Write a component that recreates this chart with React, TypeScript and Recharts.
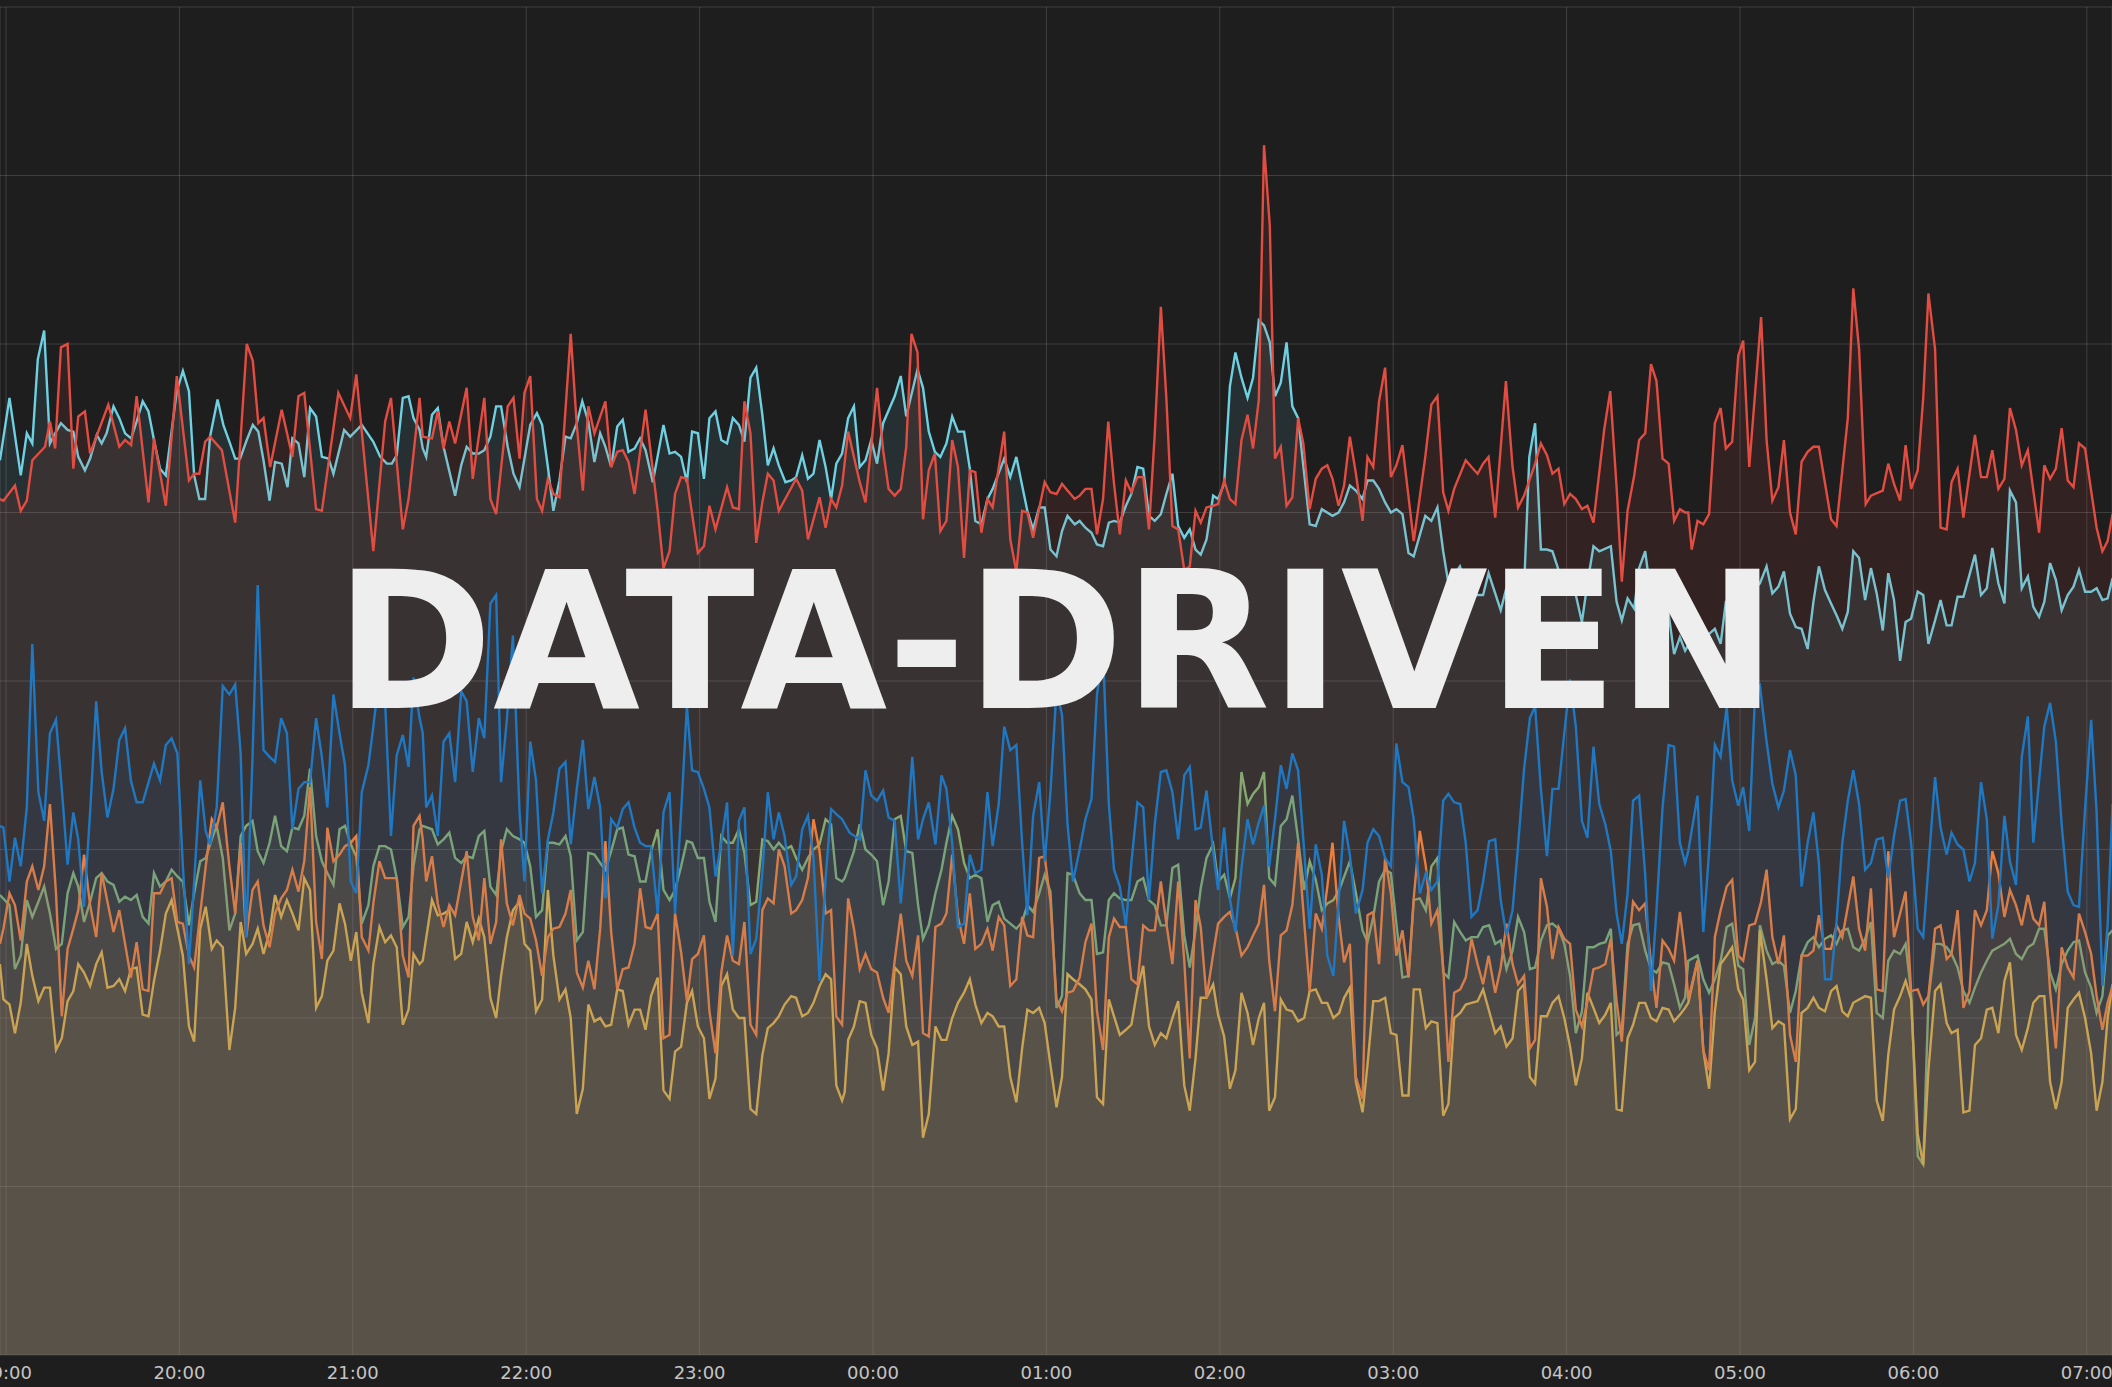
import { ComposedChart, Area, XAxis, YAxis, CartesianGrid } from 'recharts';

// x = minutes after 19:00, y = value (gridlines every 1 unit)
const hourLabels = ['19:00', '20:00', '21:00', '22:00', '23:00', '00:00', '01:00', '02:00', '03:00', '04:00', '05:00', '06:00', '07:00'];
const valueTicks = [0, 1, 2, 3, 4, 5, 6, 7, 8];

const redPts: [number, number][] = [
  [-2.1,5.08],[-0.9,5.07],[3.1,5.16],[5.1,5.01],[7.2,5.07],[9.1,5.31],[13.5,5.39],[15.2,5.54],[17.0,5.38],[19.0,5.98],[21.3,6.00],[23.3,5.26],[25.0,5.57],[27.3,5.60],[29.1,5.35],[35.4,5.64],[39.2,5.39],[41.2,5.43],[43.3,5.40],[45.2,5.69],[49.3,5.06],[51.2,5.44],[55.3,5.04],[59.1,5.81],[63.3,5.19],[65.1,5.23],[66.9,5.23],[68.9,5.42],[70.6,5.45],[74.7,5.37],[79.3,4.94],[83.3,6.00],[85.4,5.90],[87.3,5.53],[89.1,5.56],[91.4,5.27],[95.4,5.61],[99.1,5.33],[101.2,5.69],[103.2,5.71],[107.3,5.02],[109.3,5.01],[115.0,5.71],[119.1,5.56],[121.2,5.82],[127.1,4.77],[131.2,5.54],[133.2,5.68],[137.3,4.90],[139.3,5.08],[143.1,5.68],
  [144.2,5.45],[147.4,5.44],[149.4,5.60],[151.4,5.38],[153.4,5.54],[155.4,5.41],[159.4,5.74],[161.5,5.20],[165.5,5.68],[167.6,5.08],[169.6,4.99],[173.6,5.63],[175.6,5.68],[177.7,5.32],[179.4,5.71],[181.4,5.81],[183.7,5.08],[185.5,5.01],[187.5,5.20],[189.4,5.11],[191.5,5.09],[195.4,6.06],[197.5,5.52],[199.6,5.13],[201.5,5.63],[203.6,5.47],[207.4,5.66],[209.4,5.27],[211.5,5.36],[213.4,5.37],[215.4,5.30],[217.5,5.11],[221.3,5.61],[225.5,5.01],[227.5,4.67],[229.6,4.77],[231.5,5.11],[233.6,5.21],[235.6,5.20],[239.4,4.76],[241.5,4.80],[243.4,5.04],[245.5,4.90],[249.5,5.15],[251.5,5.03],[253.6,5.02],[255.5,5.66],[257.6,5.47],[259.6,4.82],[261.7,5.06],[263.6,5.23],[265.6,5.19],[267.4,5.01],[273.4,5.20],[275.5,5.13],[277.5,4.84],[281.5,5.09],[283.6,4.91],[285.5,5.08],[287.3,5.03],[289.3,5.16],
  [291.4,5.48],[295.4,5.18],[297.4,5.06],[301.4,5.74],[303.5,5.37],[305.4,5.14],[307.5,5.10],[309.6,5.14],[311.5,5.39],[313.3,6.06],[315.4,5.95],[317.3,4.96],[319.3,5.25],[321.4,5.35],[323.3,4.89],[325.4,4.95],[327.4,5.43],[329.4,5.27],[331.5,4.73],[333.5,5.25],[335.4,5.24],[337.5,4.88],[339.6,5.08],[341.4,5.03],[345.4,5.48],[347.5,4.84],[349.6,4.65],[351.6,5.01],[353.4,5.00],[355.4,4.85],[359.4,5.18],[361.4,5.12],[363.5,5.11],[365.4,5.17],[367.3,5.13],[369.8,5.08],[371.5,5.10],[373.5,5.14],[375.6,5.14],[377.5,4.87],[379.6,5.08],[381.4,5.54],[383.4,5.17],[385.4,4.87],[387.5,5.19],[389.4,5.12],[391.5,5.21],[393.5,5.21],[395.5,4.90],[397.5,5.47],[399.6,6.22],[401.5,5.68],[403.6,4.92],[405.6,4.90],[407.7,4.66],[409.6,4.68],[411.6,5.01],[413.4,4.94],[415.4,5.03],[417.7,5.04],[419.4,5.05],[421.5,5.19],[423.5,5.08],[425.4,5.05],[427.5,5.43],[429.6,5.58],[431.5,5.38],[433.5,5.67],[435.3,7.18],
  [437.3,6.70],[439.1,5.32],[441.1,5.39],[443.1,5.04],[445.1,5.09],[447.1,5.56],[448.9,5.41],[451.1,5.02],[453.2,5.20],[455.3,5.26],[457.2,5.28],[459.0,5.20],[461.1,5.04],[463.0,5.16],[465.0,5.45],[467.1,5.23],[469.4,4.95],[471.1,5.33],[473.1,5.27],[475.1,5.66],[477.2,5.86],[479.2,5.21],[481.1,5.28],[483.2,5.40],[487.1,4.83],[491.1,5.33],[493.2,5.64],[495.3,5.69],[497.3,5.12],[499.1,5.01],[501.1,5.14],[505.1,5.31],[507.1,5.27],[509.2,5.23],[511.1,5.29],[513.0,5.33],[515.3,4.97],[519.0,5.78],[521.3,5.27],[523.2,5.03],[525.3,5.10],[529.1,5.29],[531.1,5.41],[533.2,5.34],[535.1,5.23],[537.2,5.26],[539.2,5.05],[541.2,5.11],[543.2,5.08],[545.3,5.02],[547.2,5.04],[549.3,4.94],[553.0,5.49],[555.1,5.72],[557.3,5.15],[559.1,4.59],[561.1,5.01],[563.4,5.22],[565.1,5.43],[567.2,5.47],[569.2,5.88],[571.1,5.78],[573.2,5.32],[575.3,5.29],[577.2,4.95],[579.2,5.02],[581.0,5.00],
  [582.1,5.00],[583.3,4.78],[585.3,4.95],[587.3,4.93],[589.3,4.99],[591.3,5.53],[593.3,5.62],[595.1,5.38],[597.3,5.42],[599.4,5.93],[601.1,6.02],[603.2,5.27],[607.3,6.16],[609.2,5.43],[611.2,5.07],[613.3,5.15],[615.2,5.43],[617.3,5.00],[619.3,4.87],[621.3,5.30],[623.4,5.36],[625.4,5.39],[627.3,5.39],[631.5,4.96],[633.4,4.92],[637.3,5.56],[639.2,6.33],[641.2,5.97],[643.5,5.05],[645.3,5.10],[649.4,5.13],[651.3,5.29],[653.3,5.17],[655.4,5.07],[657.3,5.40],[659.2,5.14],[661.5,5.25],[663.4,5.68],[665.2,6.30],[667.5,5.97],[669.4,4.91],[671.5,4.90],[673.2,5.18],[675.3,5.26],[677.3,4.97],[681.3,5.46],[683.4,5.21],[685.4,5.21],[687.3,5.37],[689.4,5.14],[691.5,5.20],[693.4,5.62],[695.5,5.49],[697.5,5.28],[699.6,5.37],[703.5,4.88],[705.3,5.28],[707.3,5.20],[709.3,5.26],[711.3,5.50],[713.4,5.19],[715.4,5.15],[717.3,5.41],[719.4,5.38],[721.5,5.13],[723.4,4.91],[725.4,4.77],[727.2,4.83],[728.9,4.99],
];

const cyanPts: [number, number][] = [
  [-2.1,5.31],[1.2,5.68],[5.1,5.22],[7.2,5.47],[9.1,5.41],[11.0,5.91],[13.2,6.08],[15.2,5.41],[17.0,5.47],[19.0,5.53],[21.3,5.49],[23.3,5.48],[25.0,5.33],[27.3,5.25],[29.1,5.32],[31.4,5.46],[33.1,5.41],[34.8,5.47],[37.2,5.63],[39.2,5.56],[41.2,5.47],[43.3,5.44],[45.2,5.54],[47.3,5.66],[49.3,5.60],[51.2,5.43],[53.3,5.26],[55.3,5.22],[59.1,5.72],[61.2,5.84],[63.3,5.72],[65.1,5.22],[66.9,5.08],[68.9,5.08],[70.6,5.45],[73.2,5.67],[75.2,5.52],[77.5,5.41],[79.3,5.32],[81.0,5.32],[83.3,5.43],[85.4,5.52],[87.3,5.48],[89.1,5.31],[91.2,5.07],[93.1,5.30],[95.4,5.29],[97.4,5.15],[99.1,5.44],[101.2,5.41],[103.2,5.21],[105.2,5.62],[107.3,5.57],[109.3,5.33],[111.6,5.32],[113.3,5.23],[117.0,5.49],[119.1,5.45],[123.1,5.52],[127.1,5.42],[129.5,5.33],[131.8,5.29],[133.5,5.29],[135.2,5.34],[137.3,5.68],[139.3,5.69],[141.0,5.56],[143.1,5.49],
  [144.2,5.38],[145.4,5.33],[147.4,5.58],[149.4,5.62],[151.4,5.39],[155.4,5.10],[157.5,5.28],[159.4,5.39],[161.5,5.35],[163.6,5.35],[165.5,5.37],[167.6,5.45],[169.6,5.63],[171.3,5.63],[173.6,5.39],[175.6,5.23],[177.7,5.15],[181.4,5.52],[183.7,5.59],[185.5,5.52],[187.5,5.27],[189.4,5.01],[191.5,5.19],[193.6,5.45],[195.4,5.44],[197.5,5.53],[199.4,5.66],[201.5,5.54],[203.6,5.30],[205.6,5.47],[207.4,5.39],[209.4,5.27],[211.5,5.51],[213.4,5.55],[215.4,5.36],[217.5,5.38],[219.4,5.44],[221.3,5.37],[223.8,5.18],[227.5,5.52],[229.6,5.35],[231.5,5.36],[233.6,5.33],[235.6,5.18],[237.4,5.48],[239.4,5.47],[241.5,5.20],[243.4,5.56],[245.5,5.60],[247.5,5.43],[249.5,5.41],[251.5,5.56],[253.6,5.52],[255.5,5.42],[257.6,5.80],[259.6,5.86],[261.7,5.58],[263.6,5.28],[265.6,5.38],[267.4,5.28],[269.7,5.18],[271.7,5.19],[273.4,5.21],[275.5,5.34],[277.5,5.20],[279.4,5.23],[281.5,5.43],[283.6,5.27],[285.5,5.08],[287.3,5.29],[289.3,5.35],
  [291.4,5.56],[293.4,5.63],[295.4,5.27],[297.4,5.31],[299.4,5.43],[301.4,5.29],[303.5,5.53],[307.5,5.69],[309.6,5.81],[311.5,5.57],[315.4,5.85],[317.3,5.74],[319.3,5.48],[321.4,5.36],[323.3,5.33],[325.4,5.41],[327.4,5.57],[329.4,5.48],[331.5,5.48],[333.5,5.26],[335.4,4.95],[337.5,4.93],[339.6,5.08],[341.4,5.14],[345.4,5.32],[347.5,5.21],[349.6,5.33],[351.6,5.16],[353.4,5.01],[355.4,4.90],[357.5,5.03],[359.4,5.03],[361.4,4.78],[363.5,4.74],[365.4,4.89],[367.3,4.98],[369.8,4.93],[371.5,4.95],[373.5,4.91],[375.6,4.88],[377.5,4.81],[379.6,4.80],[381.6,4.94],[383.4,4.95],[385.4,4.94],[387.5,5.04],[389.4,5.11],[391.5,5.27],[393.5,5.26],[395.5,4.98],[397.5,4.95],[399.6,4.99],[401.5,5.11],[403.6,5.23],[405.6,4.92],[407.7,4.85],[409.6,4.90],[411.6,4.78],[413.4,4.75],[415.4,4.84],[417.7,5.10],[419.4,5.08],[421.5,5.17],[423.5,5.75],[425.4,5.95],[427.5,5.80],[429.6,5.68],[431.5,5.80],[433.5,6.14],[435.3,6.11],
  [437.3,6.01],[439.1,5.69],[441.1,5.77],[443.1,6.01],[445.1,5.63],[447.1,5.56],[451.1,4.93],[453.2,4.92],[455.3,5.02],[459.0,4.98],[461.1,5.00],[463.0,5.06],[465.0,5.16],[467.1,5.13],[469.4,5.08],[471.1,5.19],[473.1,5.19],[475.1,5.14],[477.2,5.06],[479.2,5.00],[481.1,5.02],[483.2,4.99],[485.3,4.76],[487.1,4.74],[491.1,4.98],[493.2,4.95],[495.3,5.03],[497.3,4.77],[499.1,4.58],[503.1,4.68],[505.1,4.58],[507.1,4.51],[511.1,4.51],[513.0,4.64],[517.2,4.42],[519.0,4.54],[521.3,4.48],[525.3,4.56],[527.1,5.33],[529.1,5.53],[531.1,4.78],[533.2,4.78],[535.1,4.77],[537.2,4.66],[541.2,4.54],[543.2,4.51],[545.3,4.35],[547.2,4.58],[549.3,4.80],[551.3,4.77],[555.3,4.80],[557.3,4.47],[559.1,4.36],[561.1,4.49],[563.4,4.43],[565.1,4.67],[567.2,4.77],[569.2,4.50],[572.0,4.45],[575.3,4.40],[577.2,4.16],[579.2,4.26],[581.0,4.18],
  [583.0,4.24],[585.6,4.27],[589.3,4.28],[591.3,4.31],[593.3,4.22],[595.1,4.47],[598.3,4.50],[602.3,4.50],[606.9,4.58],[609.2,4.68],[611.2,4.52],[613.3,4.56],[615.2,4.65],[617.3,4.40],[619.3,4.32],[621.3,4.31],[623.4,4.19],[625.4,4.47],[627.3,4.68],[629.4,4.54],[631.5,4.46],[633.4,4.39],[635.4,4.31],[637.3,4.41],[639.2,4.77],[641.2,4.73],[643.3,4.48],[645.3,4.67],[647.3,4.52],[649.4,4.30],[651.3,4.64],[653.3,4.48],[655.4,4.12],[657.3,4.35],[659.2,4.37],[661.5,4.53],[663.4,4.51],[665.2,4.22],[667.5,4.36],[669.4,4.48],[671.5,4.33],[673.2,4.33],[675.3,4.50],[677.3,4.50],[679.4,4.63],[681.3,4.75],[683.4,4.51],[685.4,4.55],[687.3,4.79],[689.4,4.58],[691.5,4.46],[693.4,5.13],[695.5,5.06],[697.5,4.55],[699.6,4.62],[701.5,4.44],[703.5,4.38],[705.3,4.47],[707.3,4.70],[709.3,4.60],[711.3,4.42],[713.4,4.51],[715.4,4.56],[717.3,4.66],[719.4,4.53],[721.5,4.53],[723.4,4.55],[725.4,4.48],[727.2,4.49],[728.9,4.61],
];

const bluePts: [number, number][] = [
  [-2.1,3.14],[-0.9,3.13],[1.2,2.81],[3.1,3.07],[5.1,2.90],[7.2,3.25],[9.1,4.22],[11.2,3.34],[13.2,3.17],[15.2,3.69],[17.3,3.77],[19.3,3.36],[21.3,2.91],[23.3,3.22],[25.0,3.06],[27.0,2.66],[29.1,3.22],[31.2,3.88],[33.1,3.46],[35.1,3.19],[37.2,3.36],[39.2,3.65],[41.2,3.72],[43.2,3.41],[45.2,3.28],[47.3,3.28],[51.2,3.51],[53.3,3.41],[55.3,3.62],[57.3,3.66],[59.3,3.57],[61.2,2.90],[63.3,2.32],[65.1,2.81],[67.2,3.41],[69.1,3.11],[70.6,3.03],[72.9,3.25],[75.0,3.97],[77.3,3.92],[79.3,3.98],[81.2,3.57],[83.1,2.48],[85.3,3.55],[87.1,4.57],[89.1,3.59],[91.2,3.55],[93.1,3.52],[95.2,3.78],[97.2,3.69],[99.1,3.12],[101.2,3.36],[103.2,3.40],[105.2,3.40],[107.3,3.78],[109.3,3.55],[111.2,3.25],[113.3,3.92],[115.4,3.69],[117.3,3.50],[119.3,2.81],[121.2,2.74],[123.1,3.34],[125.4,3.50],[127.1,3.73],[129.2,4.03],[131.2,3.87],[133.2,3.08],[135.2,3.56],[137.3,3.68],[139.3,3.49],[141.0,4.02],[143.1,3.78],
  [144.2,3.69],[145.4,3.25],[147.4,3.32],[149.4,3.08],[151.4,3.64],[153.4,3.69],[155.4,3.40],[157.5,3.94],[159.4,3.88],[161.5,3.46],[163.6,3.78],[165.5,3.66],[167.6,4.46],[169.6,4.51],[171.3,3.40],[173.3,3.77],[175.4,4.27],[177.7,3.22],[179.4,2.81],[181.4,3.64],[183.4,3.41],[185.5,2.74],[187.5,3.06],[189.4,3.22],[191.5,3.48],[193.6,3.52],[195.4,3.03],[197.5,3.36],[199.6,3.65],[201.5,3.24],[203.6,3.43],[205.6,3.25],[207.4,2.71],[209.4,3.18],[211.5,3.13],[213.4,3.24],[215.4,3.28],[217.5,3.13],[219.4,3.04],[221.3,3.02],[223.2,3.02],[225.5,2.62],[227.5,3.22],[229.6,3.34],[231.5,2.62],[233.6,3.22],[235.6,3.85],[237.4,3.47],[239.4,3.46],[241.5,3.36],[243.4,3.25],[245.5,2.84],[247.5,3.04],[249.5,3.28],[251.5,2.37],[253.6,3.17],[255.5,3.25],[257.6,2.38],[259.6,2.47],[261.7,2.86],[263.6,3.34],[265.6,3.06],[267.4,3.22],[269.4,3.08],[271.7,2.79],[273.4,2.84],[275.5,3.12],[277.5,3.20],[279.4,2.95],[281.5,2.22],[283.6,2.83],[285.5,3.24],[287.3,3.21],[289.3,3.18],
  [291.9,3.10],[295.4,3.06],[297.4,3.47],[299.4,3.32],[301.4,3.29],[303.5,3.35],[305.4,3.19],[307.5,3.17],[309.6,2.68],[311.5,3.04],[313.6,3.55],[315.6,3.06],[317.3,3.18],[319.3,3.28],[321.6,3.03],[323.7,3.44],[325.4,3.36],[327.4,3.04],[329.4,2.54],[331.5,2.56],[333.5,2.97],[335.4,2.86],[337.5,2.88],[339.6,3.34],[341.4,3.02],[343.5,3.27],[345.4,3.73],[347.5,3.59],[349.6,3.62],[351.6,3.04],[353.4,2.61],[355.4,3.20],[357.5,3.40],[359.4,2.93],[361.4,3.34],[363.5,3.95],[365.4,3.80],[367.3,3.15],[369.2,2.81],[371.5,3.00],[373.5,3.18],[375.6,3.30],[377.5,3.92],[379.6,4.17],[381.6,3.27],[383.4,2.88],[385.4,2.78],[387.5,2.55],[389.4,2.92],[391.5,3.28],[393.5,3.25],[395.5,2.70],[397.5,3.15],[399.6,3.46],[401.5,3.47],[403.6,3.34],[405.6,3.06],[407.7,3.44],[409.6,3.49],[411.6,3.12],[413.4,3.13],[415.4,3.35],[417.7,2.99],[419.4,2.76],[421.5,3.13],[423.5,2.71],[425.4,2.51],[427.5,2.89],[429.6,3.18],[431.5,3.03],[433.3,3.15],[435.3,3.26],
  [437.1,2.90],[439.1,3.18],[441.1,3.50],[443.1,3.36],[445.1,3.57],[447.1,3.47],[449.2,2.99],[451.1,2.53],[453.2,3.03],[455.3,2.85],[457.2,2.37],[459.3,2.25],[461.3,2.74],[463.0,3.17],[465.0,2.97],[467.1,2.62],[469.4,2.76],[471.1,3.04],[473.1,3.12],[475.1,3.08],[477.2,2.95],[479.2,2.90],[481.1,3.63],[483.2,3.40],[485.3,3.37],[487.1,3.18],[489.2,2.74],[491.3,2.86],[493.2,2.76],[495.3,2.81],[497.3,3.29],[499.1,3.33],[501.1,3.28],[503.2,3.27],[505.1,3.04],[507.1,2.60],[509.2,2.64],[511.1,2.81],[513.2,3.05],[515.3,3.06],[517.2,2.70],[519.2,2.49],[521.3,2.64],[523.2,3.02],[525.3,3.48],[527.3,3.78],[529.1,3.85],[531.1,3.36],[533.2,2.96],[535.1,3.36],[537.2,3.36],[539.2,3.69],[541.2,4.01],[543.2,3.73],[545.3,3.17],[547.2,3.07],[549.3,3.61],[551.3,3.27],[553.4,3.15],[555.3,2.99],[557.3,2.62],[559.1,2.44],[561.1,2.74],[563.0,3.29],[565.1,3.32],[567.2,2.85],[569.2,2.16],[571.1,2.64],[573.2,3.25],[575.3,3.62],[577.2,3.61],[579.2,3.04],[581.0,2.92],
  [582.1,2.99],[585.3,3.32],[587.3,2.51],[589.3,2.99],[591.3,3.62],[593.3,3.55],[595.4,3.85],[597.3,3.41],[599.4,3.26],[601.1,3.37],[603.2,3.11],[605.2,3.92],[606.9,3.97],[609.2,3.64],[611.2,3.39],[613.3,3.25],[615.2,3.35],[617.3,3.59],[619.3,3.44],[621.3,2.78],[623.4,3.04],[625.4,3.22],[627.3,2.92],[629.4,2.23],[631.5,2.23],[633.4,2.57],[635.4,3.04],[637.3,3.29],[639.2,3.47],[641.2,3.27],[643.3,2.88],[645.3,2.92],[647.3,3.06],[649.4,3.07],[651.3,2.83],[653.3,3.08],[655.4,3.29],[657.3,3.30],[659.2,3.04],[661.5,2.53],[663.4,2.48],[665.2,2.90],[667.5,3.43],[669.4,3.13],[671.5,2.97],[673.2,3.10],[675.3,3.03],[677.3,3.00],[679.4,2.81],[681.3,2.92],[683.4,3.40],[685.4,3.18],[687.3,2.47],[689.4,2.67],[691.5,3.20],[693.4,2.93],[695.5,2.79],[697.5,3.55],[699.6,3.79],[701.5,3.04],[703.5,3.41],[705.3,3.73],[707.3,3.87],[709.3,3.64],[711.3,3.15],[713.4,2.75],[715.4,2.67],[717.3,2.66],[719.4,3.24],[721.5,3.77],[723.4,3.22],[725.4,2.19],[727.2,2.55],[728.9,3.27],
];

const greenPts: [number, number][] = [
  [-2.1,2.73],[1.2,2.67],[3.1,2.29],[5.1,2.37],[7.2,2.70],[9.1,2.60],[11.2,2.69],[13.2,2.78],[15.2,2.62],[17.3,2.41],[19.3,2.44],[21.3,2.74],[23.3,2.86],[25.0,2.78],[27.0,2.57],[29.1,2.69],[31.2,2.83],[33.1,2.86],[35.1,2.81],[37.2,2.79],[39.2,2.69],[41.2,2.72],[43.2,2.70],[45.2,2.73],[47.3,2.60],[49.3,2.56],[51.2,2.86],[53.3,2.78],[55.3,2.81],[57.3,2.88],[59.3,2.84],[61.2,2.81],[63.3,2.55],[65.1,2.74],[67.2,2.93],[69.1,2.95],[71.2,3.06],[72.9,3.14],[75.0,2.95],[77.3,2.52],[79.3,2.62],[81.2,3.08],[83.1,3.14],[85.3,3.17],[87.1,2.99],[89.1,2.92],[91.2,3.04],[93.1,3.20],[95.2,3.02],[97.2,2.99],[99.1,3.13],[101.2,3.12],[103.2,3.20],[105.2,3.48],[107.3,3.08],[109.3,2.93],[111.2,2.86],[113.3,2.79],[115.4,3.12],[117.3,3.14],[119.3,3.03],[121.2,2.96],[123.1,2.56],[125.4,2.67],[127.1,2.90],[129.2,3.02],[131.2,3.02],[133.2,3.00],[135.2,2.83],[137.3,2.54],[139.3,2.60],[141.0,2.90],[143.1,3.12],
  [144.2,3.14],[147.4,3.12],[149.4,3.03],[151.4,3.06],[153.4,3.10],[155.4,2.95],[157.5,2.92],[159.4,2.96],[161.5,2.95],[163.6,3.08],[165.5,3.11],[167.6,2.78],[169.6,2.73],[171.3,2.99],[173.3,3.12],[175.4,3.08],[177.7,3.06],[179.4,3.04],[181.4,2.90],[183.4,2.60],[185.5,2.64],[187.5,3.04],[189.4,3.04],[191.5,3.03],[193.6,3.08],[195.4,2.96],[197.5,2.46],[199.6,2.51],[201.5,2.98],[203.6,2.97],[205.6,2.92],[207.4,2.88],[209.4,2.99],[211.5,3.12],[213.4,3.13],[215.4,2.97],[217.5,2.96],[219.4,2.81],[221.3,2.81],[223.2,2.99],[225.5,3.12],[227.5,2.76],[229.6,2.70],[231.5,2.76],[233.6,2.90],[235.6,3.05],[237.4,3.04],[239.4,2.95],[241.5,2.95],[243.4,2.69],[245.5,2.57],[247.5,3.08],[249.5,3.04],[251.5,3.04],[253.6,3.12],[255.5,2.98],[257.6,2.67],[259.6,2.69],[261.7,3.06],[263.6,3.05],[265.6,3.00],[267.4,3.04],[269.4,3.00],[271.7,3.02],[273.4,2.95],[275.5,2.88],[277.5,2.95],[279.4,3.00],[281.5,3.03],[283.6,3.18],[285.5,3.15],[287.3,2.83],[289.3,2.81],
  [290.2,2.83],[293.4,2.99],[295.4,3.15],[297.4,3.00],[299.4,2.97],[301.4,2.93],[303.5,2.67],[305.4,2.81],[307.5,3.18],[309.6,3.20],[311.5,2.99],[313.6,2.98],[315.6,2.67],[317.3,2.47],[319.3,2.55],[321.6,2.74],[323.7,2.88],[325.4,3.04],[327.4,3.20],[329.4,3.12],[331.5,2.92],[333.5,2.83],[335.4,2.85],[337.5,2.83],[339.6,2.57],[341.4,2.67],[343.5,2.69],[345.4,2.59],[347.5,2.56],[349.6,2.53],[351.6,2.57],[353.4,2.67],[355.4,2.63],[357.5,2.74],[359.4,2.85],[361.4,2.75],[363.5,2.06],[365.4,2.13],[367.3,2.86],[369.2,2.85],[371.5,2.74],[373.5,2.70],[375.6,2.70],[377.5,2.38],[379.6,2.39],[381.6,2.70],[383.4,2.74],[385.4,2.71],[387.5,2.70],[389.4,2.70],[391.5,2.81],[393.5,2.83],[395.5,2.70],[397.5,2.67],[399.6,2.55],[401.5,2.55],[403.6,2.89],[405.6,2.91],[407.7,2.49],[409.6,2.30],[411.6,2.52],[413.4,2.77],[415.4,2.95],[417.7,3.03],[419.4,2.81],[421.5,2.85],[423.5,2.71],[425.4,2.83],[427.5,3.46],[429.6,3.27],[431.5,3.33],[433.5,3.37],[435.3,3.46],
  [437.1,2.83],[439.1,2.79],[441.1,3.14],[443.1,3.18],[445.1,3.32],[447.1,3.06],[449.2,2.76],[451.1,2.93],[453.2,2.82],[455.3,2.64],[457.2,2.68],[459.3,2.70],[461.3,2.76],[465.0,2.93],[467.1,2.74],[469.4,2.52],[471.1,2.45],[473.1,2.60],[475.1,2.81],[477.2,2.88],[479.2,2.86],[481.1,2.56],[483.2,2.24],[485.3,2.25],[487.1,2.70],[489.2,2.71],[491.3,2.64],[493.2,2.90],[495.3,2.95],[497.3,2.27],[499.1,2.24],[501.1,2.57],[503.2,2.51],[505.1,2.46],[507.1,2.48],[509.2,2.48],[511.1,2.54],[513.2,2.55],[515.3,2.44],[517.2,2.46],[519.2,2.29],[521.3,2.40],[523.2,2.60],[525.3,2.51],[527.3,2.29],[529.1,2.30],[531.1,2.46],[533.2,2.55],[535.1,2.56],[537.2,2.53],[539.2,2.44],[541.2,2.25],[543.2,1.91],[545.3,2.04],[547.2,2.42],[549.3,2.42],[551.3,2.44],[553.4,2.45],[555.3,2.53],[557.3,1.90],[559.1,1.93],[561.1,2.44],[563.0,2.55],[565.1,2.56],[567.2,2.40],[569.2,2.29],[571.1,2.27],[573.2,2.33],[575.3,2.32],[577.2,2.20],[579.2,2.06],[581.0,2.12],
  [582.1,2.34],[585.3,2.37],[587.3,2.23],[589.3,2.15],[591.3,2.23],[593.3,2.34],[595.4,2.54],[597.3,2.56],[599.4,2.31],[601.1,2.29],[603.2,1.84],[605.2,2.00],[606.9,2.55],[609.2,2.40],[611.2,2.32],[613.3,2.34],[615.2,2.31],[617.3,2.03],[619.3,2.16],[621.3,2.37],[623.4,2.45],[625.4,2.48],[627.3,2.42],[629.4,2.47],[631.5,2.49],[633.4,2.44],[635.4,2.52],[637.3,2.53],[639.2,2.42],[641.2,2.40],[643.3,2.47],[645.3,2.57],[647.3,2.03],[649.4,2.00],[651.3,2.34],[653.3,2.40],[655.4,2.38],[657.3,2.44],[659.2,2.15],[661.5,1.18],[663.4,1.13],[665.2,2.11],[667.5,2.44],[669.4,2.44],[671.5,2.42],[673.2,2.38],[675.3,2.30],[677.3,2.16],[679.4,2.09],[681.3,2.18],[683.4,2.27],[685.4,2.34],[687.3,2.40],[689.4,2.42],[691.5,2.44],[693.4,2.47],[695.5,2.38],[697.5,2.35],[699.6,2.42],[701.5,2.44],[703.5,2.53],[705.3,2.53],[707.3,2.27],[709.3,2.17],[711.3,2.32],[713.4,2.40],[715.4,2.45],[717.3,2.46],[719.4,2.27],[721.5,2.18],[723.4,2.03],[725.4,2.13],[727.2,2.49],[728.9,2.52],
];

const orangePts: [number, number][] = [
  [-2.1,2.44],[-0.9,2.53],[1.2,2.74],[3.1,2.67],[5.1,2.46],[7.2,2.81],[9.1,2.90],[11.2,2.76],[13.2,2.90],[15.2,3.27],[17.3,2.74],[19.3,2.01],[21.3,2.41],[23.3,2.53],[25.0,2.64],[27.0,2.97],[29.1,2.67],[31.2,2.48],[33.1,2.86],[35.1,2.69],[37.2,2.51],[39.2,2.64],[41.2,2.44],[43.2,2.24],[45.2,2.45],[47.3,2.17],[49.3,2.16],[51.2,2.74],[53.3,2.74],[55.3,2.81],[57.3,2.83],[59.3,2.57],[61.2,2.56],[63.3,2.37],[65.1,2.30],[67.2,2.62],[69.1,2.90],[71.2,3.18],[72.9,3.13],[75.0,3.28],[77.3,2.90],[79.3,2.62],[81.2,3.04],[83.1,2.48],[85.3,2.76],[87.1,2.81],[89.1,2.55],[91.2,2.42],[93.1,2.62],[95.2,2.71],[97.2,2.76],[99.1,2.88],[101.2,2.75],[103.2,2.93],[105.2,3.37],[107.3,2.57],[109.3,2.35],[111.2,3.13],[113.3,2.93],[115.4,2.97],[117.3,3.02],[119.3,3.04],[121.2,3.08],[123.1,2.48],[125.4,2.40],[127.1,2.68],[129.2,2.93],[131.2,2.83],[133.2,2.83],[135.2,2.83],[137.3,2.37],[139.3,2.24],[141.0,3.14],[143.1,3.20],
  [144.2,3.06],[145.4,2.81],[147.4,2.96],[149.4,2.68],[151.4,2.54],[153.4,2.67],[155.4,2.61],[157.5,2.81],[159.4,2.99],[161.5,2.60],[163.6,2.46],[165.5,2.83],[167.6,2.44],[169.6,2.57],[171.3,3.06],[173.3,2.68],[175.4,2.55],[177.7,2.73],[179.4,2.62],[181.4,2.59],[183.4,2.46],[185.5,2.25],[187.5,2.48],[189.4,2.53],[191.5,2.54],[193.6,2.62],[195.4,2.76],[197.5,2.27],[199.6,2.18],[201.5,2.34],[203.6,2.17],[205.6,2.53],[207.4,3.05],[209.4,2.51],[211.5,2.17],[213.4,2.29],[215.4,2.30],[217.5,2.44],[219.4,2.77],[221.3,2.54],[223.2,2.53],[225.5,2.62],[227.5,1.88],[229.6,1.90],[231.5,2.62],[233.6,2.39],[235.6,2.10],[237.4,2.35],[239.4,2.38],[241.5,2.49],[243.4,2.04],[245.5,1.79],[247.5,2.27],[249.5,2.49],[251.5,2.34],[253.6,2.32],[255.5,2.57],[257.6,1.96],[259.6,1.90],[261.7,2.64],[263.6,2.71],[265.6,2.68],[267.4,3.00],[269.4,2.90],[271.7,2.62],[273.4,2.64],[275.5,2.70],[277.5,2.83],[279.4,3.18],[281.5,2.99],[283.6,2.62],[285.5,2.64],[287.3,2.01],[289.3,1.96],
  [291.4,2.71],[293.4,2.53],[295.4,2.29],[297.4,2.38],[299.4,2.29],[301.4,2.27],[303.5,2.12],[305.4,2.03],[307.5,2.34],[309.6,2.62],[311.5,2.34],[313.6,2.25],[315.6,2.49],[317.3,1.91],[319.3,1.89],[321.6,2.54],[323.7,2.56],[325.4,2.62],[327.4,2.97],[329.4,2.60],[331.5,2.44],[333.5,2.74],[335.4,2.41],[337.5,2.44],[339.6,2.53],[341.4,2.40],[343.5,2.60],[345.4,2.55],[347.5,2.19],[349.6,2.23],[351.6,2.60],[353.4,2.49],[355.4,2.48],[357.5,2.95],[359.4,2.96],[361.4,2.69],[363.5,2.11],[365.4,2.04],[367.3,2.15],[369.2,2.16],[371.5,2.24],[373.5,2.45],[375.6,2.56],[377.5,2.04],[379.6,1.81],[381.6,2.48],[383.4,2.59],[385.4,2.54],[387.5,2.54],[389.4,2.23],[391.5,2.20],[393.5,2.55],[395.5,2.52],[397.5,2.52],[399.6,2.81],[401.5,2.56],[403.6,2.32],[405.6,2.81],[407.7,2.34],[409.6,1.76],[411.6,2.70],[413.4,2.54],[415.4,2.12],[417.7,2.38],[419.4,2.56],[421.5,2.60],[423.5,2.63],[425.4,2.54],[427.5,2.37],[429.6,2.42],[431.5,2.49],[433.5,2.56],[435.3,2.79],
  [437.1,2.34],[439.1,2.04],[441.1,2.49],[443.1,2.52],[445.1,2.67],[447.1,3.04],[449.2,2.57],[451.1,2.16],[453.2,2.62],[455.3,2.53],[457.2,2.78],[459.0,3.04],[461.1,2.60],[463.0,2.33],[465.0,2.44],[467.1,1.65],[469.4,1.52],[471.1,2.61],[473.1,2.63],[475.1,2.32],[477.2,2.95],[479.2,2.74],[481.1,2.37],[483.2,2.52],[485.3,2.24],[487.1,2.71],[489.2,3.11],[491.3,2.90],[493.2,2.56],[495.3,2.64],[497.3,2.30],[499.1,1.74],[501.1,2.15],[503.2,2.17],[505.1,2.24],[507.1,2.47],[509.2,2.32],[511.1,2.20],[513.0,2.37],[515.3,2.15],[517.2,2.30],[519.2,2.56],[521.3,2.32],[523.2,2.20],[525.3,2.25],[527.3,1.82],[529.1,1.87],[531.1,2.83],[533.2,2.66],[535.1,2.35],[537.2,2.54],[539.2,2.47],[541.2,2.44],[543.2,2.05],[545.3,1.95],[547.2,2.10],[549.3,2.29],[551.3,2.30],[553.4,2.32],[555.3,2.47],[557.3,2.10],[559.1,1.86],[561.1,2.37],[563.0,2.69],[565.1,2.64],[567.2,2.68],[569.2,2.32],[571.1,2.06],[573.2,2.46],[575.3,2.41],[577.2,2.34],[579.2,2.63],[581.0,2.38],
  [582.1,2.11],[585.3,2.34],[587.3,1.81],[589.3,1.69],[591.3,2.48],[593.3,2.64],[595.4,2.78],[597.3,2.82],[599.4,2.37],[601.1,2.34],[603.2,2.55],[605.2,2.56],[607.3,2.69],[609.2,2.88],[611.2,2.48],[613.3,2.32],[615.2,2.49],[617.3,1.90],[619.3,1.74],[621.3,2.37],[623.4,2.37],[625.4,2.40],[627.3,2.61],[629.4,2.41],[631.5,2.41],[633.4,2.55],[635.4,2.48],[637.3,2.66],[639.2,2.84],[641.2,2.53],[643.3,2.40],[645.3,2.77],[647.3,2.17],[649.4,2.16],[651.3,2.99],[653.3,2.48],[655.4,2.62],[657.3,2.75],[659.2,2.16],[661.5,2.17],[663.4,2.08],[665.2,2.13],[667.5,2.53],[669.4,2.55],[671.5,2.35],[673.2,2.38],[675.3,2.64],[677.3,2.06],[679.4,2.16],[681.3,2.64],[683.4,2.55],[685.4,2.64],[687.3,2.99],[689.4,2.86],[691.5,2.60],[693.4,2.76],[695.5,2.67],[697.5,2.55],[699.6,2.73],[701.5,2.59],[703.5,2.55],[705.3,2.69],[707.3,2.16],[709.3,1.82],[711.3,2.42],[713.4,2.30],[715.4,2.24],[717.3,2.62],[719.4,2.51],[721.5,2.38],[723.4,2.13],[725.4,1.93],[727.2,2.09],[728.9,2.19],
];

const yellowPts: [number, number][] = [
  [-2.1,2.32],[-0.9,2.11],[1.2,2.08],[3.1,1.91],[5.1,2.09],[7.2,2.44],[9.1,2.25],[11.2,2.10],[13.2,2.18],[15.2,2.18],[17.3,1.81],[19.3,1.88],[21.3,2.10],[23.3,2.16],[25.0,2.32],[27.0,2.27],[29.1,2.19],[31.2,2.32],[33.1,2.39],[35.1,2.18],[37.2,2.19],[39.2,2.23],[41.2,2.16],[43.2,2.29],[45.2,2.30],[47.3,2.02],[49.3,2.01],[51.2,2.22],[53.3,2.40],[55.3,2.62],[57.3,2.70],[59.3,2.53],[61.2,2.37],[63.3,1.95],[65.1,1.86],[67.2,2.53],[69.1,2.66],[71.2,2.41],[72.9,2.46],[75.0,2.42],[77.3,1.81],[79.3,2.06],[81.2,2.57],[83.1,2.38],[85.3,2.44],[87.1,2.53],[89.1,2.38],[91.2,2.51],[93.1,2.73],[95.2,2.60],[97.2,2.70],[99.1,2.62],[101.2,2.52],[103.2,2.83],[105.2,2.76],[107.3,2.06],[109.3,2.13],[111.2,2.34],[113.3,2.40],[115.4,2.68],[117.3,2.56],[119.3,2.34],[121.2,2.51],[123.1,2.15],[125.4,1.97],[127.1,2.32],[129.2,2.54],[131.2,2.45],[133.2,2.49],[135.2,2.42],[137.3,1.96],[139.3,2.05],[141.0,2.38],[143.1,2.32],
  [144.2,2.34],[147.4,2.70],[149.4,2.61],[151.4,2.62],[153.4,2.64],[155.4,2.35],[157.5,2.38],[159.4,2.57],[161.5,2.45],[163.6,2.59],[165.5,2.48],[167.6,2.12],[169.6,2.00],[171.3,2.25],[173.3,2.48],[175.4,2.64],[177.7,2.69],[179.4,2.44],[181.4,2.40],[183.4,2.04],[185.5,2.11],[187.5,2.76],[189.4,2.37],[191.5,2.11],[193.6,2.17],[195.4,2.00],[197.5,1.43],[199.6,1.58],[201.5,2.08],[203.6,1.98],[205.6,2.00],[207.4,1.95],[209.4,1.96],[211.5,2.17],[213.4,2.16],[215.4,1.96],[217.5,2.05],[219.4,2.05],[221.3,1.93],[223.2,2.13],[225.5,2.24],[227.5,1.57],[229.6,1.52],[231.5,1.80],[233.6,1.83],[235.6,2.09],[237.4,2.16],[239.4,1.95],[241.5,1.88],[243.4,1.52],[245.5,1.64],[247.5,2.19],[249.5,2.26],[251.5,2.05],[253.6,2.00],[255.5,2.00],[257.6,1.46],[259.6,1.43],[261.7,1.78],[263.6,1.94],[265.6,1.97],[267.4,2.01],[269.4,2.08],[271.7,2.13],[273.4,2.12],[275.5,2.01],[277.5,2.03],[279.4,2.09],[281.5,2.19],[283.6,2.26],[285.5,2.23],[287.3,1.60],[289.3,1.51],
  [290.2,1.56],[291.4,1.87],[293.4,1.95],[295.4,2.10],[297.4,2.09],[299.4,1.90],[301.4,1.82],[303.5,1.57],[305.4,1.79],[307.5,2.30],[309.6,2.26],[311.5,1.95],[313.6,1.84],[315.6,1.86],[317.3,1.29],[319.3,1.43],[321.6,1.95],[323.7,1.87],[325.4,1.87],[327.4,2.00],[329.4,2.09],[331.5,2.15],[333.5,2.23],[335.4,2.08],[337.5,1.97],[339.6,2.03],[341.4,2.01],[343.5,1.95],[345.4,1.95],[347.5,1.65],[349.6,1.50],[351.6,1.82],[353.4,2.05],[355.4,2.03],[357.5,2.06],[359.4,1.97],[361.4,1.72],[363.5,1.47],[365.4,1.65],[367.3,2.26],[369.2,2.23],[371.5,2.20],[373.5,2.17],[375.6,2.11],[377.5,1.53],[379.6,1.49],[381.6,2.11],[383.4,2.01],[385.4,1.90],[387.5,1.93],[389.4,1.96],[391.5,2.17],[393.5,2.31],[395.5,1.95],[397.5,1.84],[399.6,1.91],[401.5,1.88],[403.6,2.00],[405.6,2.10],[407.7,1.60],[409.6,1.45],[411.6,1.76],[413.4,2.12],[415.4,2.12],[417.7,2.20],[419.4,2.02],[421.5,1.89],[423.5,1.58],[425.4,1.69],[427.5,2.15],[429.6,2.03],[431.5,1.84],[433.5,2.00],[435.3,2.09],
  [437.1,1.45],[439.1,1.53],[441.1,2.11],[443.1,2.05],[445.1,2.04],[447.1,1.98],[449.2,2.00],[451.1,2.16],[453.2,2.17],[455.3,2.09],[457.2,2.09],[459.3,2.00],[461.3,2.03],[463.0,2.12],[465.0,2.18],[467.1,1.62],[469.4,1.44],[471.1,1.72],[473.1,2.10],[475.1,2.10],[477.2,2.12],[479.2,1.91],[481.1,1.90],[483.2,1.54],[485.3,1.54],[487.1,2.17],[489.2,2.17],[491.3,1.94],[493.2,1.98],[495.3,1.97],[497.3,1.42],[499.1,1.49],[501.1,2.00],[503.2,2.03],[505.1,2.08],[507.1,2.09],[509.2,2.10],[511.1,2.17],[513.2,2.04],[515.3,1.91],[517.2,1.95],[519.2,1.83],[521.3,1.88],[523.2,2.16],[525.3,2.20],[527.3,1.65],[529.1,1.61],[531.1,2.01],[533.2,2.01],[535.1,2.09],[537.2,2.13],[539.2,2.00],[541.2,1.83],[543.2,1.60],[545.3,1.76],[547.2,2.15],[549.3,2.06],[551.3,1.97],[553.4,2.02],[555.3,2.09],[557.3,1.46],[559.1,1.45],[561.1,1.88],[563.0,1.96],[565.1,2.09],[567.2,2.09],[569.2,2.00],[571.1,1.98],[573.2,2.06],[575.3,2.05],[577.2,1.98],[579.2,2.02],[581.0,2.06],
  [582.1,2.09],[585.3,2.34],[587.3,1.81],[589.3,1.58],[591.3,2.04],[593.3,2.32],[595.4,2.37],[597.3,2.42],[599.4,2.17],[601.1,2.11],[603.2,1.69],[605.2,1.74],[606.9,2.52],[609.2,2.23],[611.2,1.94],[613.3,1.98],[615.2,1.96],[617.3,1.40],[619.3,1.46],[621.3,2.03],[623.4,2.06],[625.4,2.12],[627.3,2.06],[629.4,2.04],[631.5,2.16],[633.4,2.19],[635.4,2.04],[637.3,2.01],[639.2,2.09],[641.2,2.11],[643.3,2.13],[645.3,2.12],[647.3,1.51],[649.4,1.39],[651.3,1.78],[653.3,2.05],[655.4,2.13],[657.3,2.22],[659.2,2.11],[661.5,1.31],[663.4,1.13],[665.2,1.69],[667.5,2.16],[669.4,2.20],[671.5,1.97],[673.2,1.91],[675.3,1.93],[677.3,1.44],[679.4,1.45],[681.3,1.84],[683.4,1.88],[685.4,2.05],[687.3,2.06],[689.4,1.91],[691.5,2.22],[693.4,2.33],[695.5,1.90],[697.5,1.81],[699.6,1.94],[701.5,2.09],[703.5,2.13],[705.3,2.13],[707.3,1.62],[709.3,1.46],[711.3,1.62],[713.4,2.06],[715.4,2.11],[717.3,2.15],[719.4,2.00],[721.5,1.79],[723.4,1.45],[725.4,1.62],[727.2,2.00],[728.9,2.20],
];

const toRows = (pts: [number, number][]) => pts.map(([t, v]) => ({ t, v }));

// drawn bottom to top, same order as the dashboard
const series = [
  { name: 'green', color: '#7eb26d', rows: toRows(greenPts) },
  { name: 'yellow', color: '#eab839', rows: toRows(yellowPts) },
  { name: 'cyan', color: '#6ed0e0', rows: toRows(cyanPts) },
  { name: 'orange', color: '#ef843c', rows: toRows(orangePts) },
  { name: 'red', color: '#e24d42', rows: toRows(redPts) },
  { name: 'blue', color: '#1f78c1', rows: toRows(bluePts) },
];

const hourTicks = hourLabels.map((_, i) => i * 60);

export default function App() {
  return (
    <div
      style={{
        position: 'fixed',
        left: 0,
        top: 0,
        width: 2112,
        height: 1387,
        background: '#1f1e1f',
        overflow: 'hidden',
      }}
    >
      <ComposedChart width={2112} height={1387} margin={{ top: 7, right: 0, bottom: 0, left: 0 }}>
        <CartesianGrid stroke="#ffffff" strokeOpacity={0.15} strokeWidth={1} />
        <XAxis
          dataKey="t"
          type="number"
          domain={[-2.08, 728.72]}
          allowDataOverflow
          ticks={hourTicks}
          interval={0}
          tickFormatter={(v: number) => hourLabels[Math.round(v / 60)]}
          height={32}
          axisLine={false}
          tickLine={false}
          tickMargin={5}
          tick={{ fill: '#c4c4c4', fontSize: 18, fontFamily: 'DejaVu Sans' }}
        />
        <YAxis type="number" domain={[0, 8]} ticks={valueTicks} allowDataOverflow hide />
        {series.map((s) => (
          <Area
            key={s.name}
            data={s.rows}
            dataKey="v"
            type="linear"
            stroke={s.color}
            strokeWidth={2.4}
            fill={s.color}
            fillOpacity={0.1}
            dot={false}
            activeDot={false}
            isAnimationActive={false}
          />
        ))}
      </ComposedChart>
      <svg
        width={2112}
        height={1387}
        style={{ position: 'absolute', left: 0, top: 0, pointerEvents: 'none' }}
      >
        <text
          x={1056}
          y={708}
          textAnchor="middle"
          fill="#eeeeee"
          fontFamily="DejaVu Sans"
          fontWeight="bold"
          fontSize={190}
        >
          DATA-DRIVEN
        </text>
      </svg>
    </div>
  );
}
